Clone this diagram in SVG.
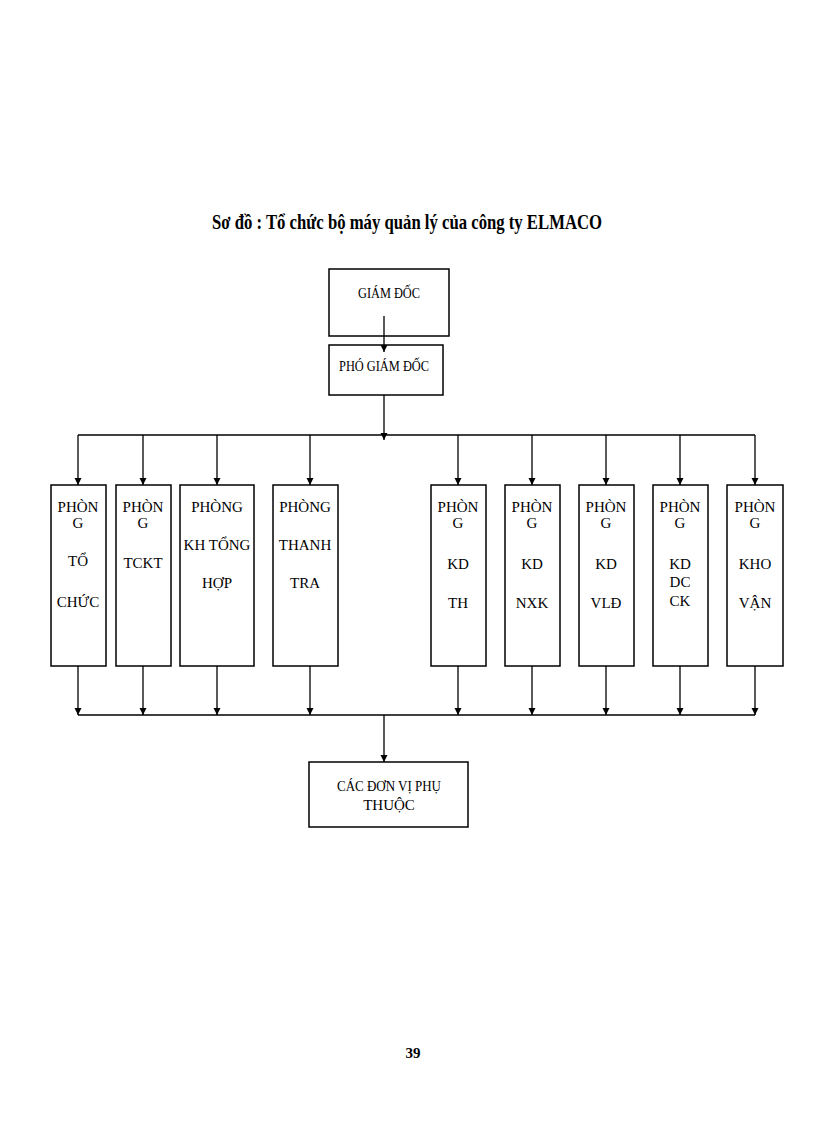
<svg xmlns="http://www.w3.org/2000/svg" width="816" height="1123" viewBox="0 0 816 1123">
<style>
text{font-family:"Liberation Serif","Times New Roman",serif;font-size:15px;fill:#000;text-anchor:middle}
.b{fill:#fff;stroke:#000;stroke-width:1.5}
.c{stroke:#000;stroke-width:1.3;fill:none}
</style>
<defs><marker id="a" viewBox="0 0 10 10" refX="10" refY="5" markerWidth="7" markerHeight="9" markerUnits="userSpaceOnUse" orient="auto"><path d="M0,0 L10,5 L0,10 Z" fill="#000"/></marker></defs>
<rect width="816" height="1123" fill="#fff"/>
<text x="407" y="229" style="font-size:21px;font-weight:bold" textLength="390" lengthAdjust="spacingAndGlyphs">Sơ đồ : Tổ chức bộ máy quản lý của công ty ELMACO</text>
<g id="gd"><rect class="b" x="329" y="269" width="120" height="67"/><text x="389" y="298" textLength="62" lengthAdjust="spacingAndGlyphs">GIÁM ĐỐC</text></g>
<g id="pgd"><rect class="b" x="329" y="345" width="114" height="50"/><text x="384" y="371" textLength="90" lengthAdjust="spacingAndGlyphs">PHÓ GIÁM ĐỐC</text></g>
<g id="p1"><rect class="b" x="51" y="485" width="55" height="181"/><text x="78" y="512">PHÒN</text><text x="78" y="528">G</text><text x="78" y="566">TỔ</text><text x="78" y="607">CHỨC</text></g>
<g id="p2"><rect class="b" x="116" y="485" width="55" height="181"/><text x="143" y="512">PHÒN</text><text x="143" y="528">G</text><text x="143" y="568">TCKT</text></g>
<g id="p3"><rect class="b" x="180" y="485" width="74" height="181"/><text x="217" y="512">PHÒNG</text><text x="217" y="550">KH TỔNG</text><text x="217" y="588">HỢP</text></g>
<g id="p4"><rect class="b" x="273" y="485" width="65" height="181"/><text x="305" y="512">PHÒNG</text><text x="305" y="550">THANH</text><text x="305" y="588">TRA</text></g>
<g id="p5"><rect class="b" x="431" y="485" width="55" height="181"/><text x="458" y="512">PHÒN</text><text x="458" y="528">G</text><text x="458" y="569">KD</text><text x="458" y="608">TH</text></g>
<g id="p6"><rect class="b" x="505" y="485" width="55" height="181"/><text x="532" y="512">PHÒN</text><text x="532" y="528">G</text><text x="532" y="569">KD</text><text x="532" y="608">NXK</text></g>
<g id="p7"><rect class="b" x="579" y="485" width="55" height="181"/><text x="606" y="512">PHÒN</text><text x="606" y="528">G</text><text x="606" y="569">KD</text><text x="606" y="608">VLĐ</text></g>
<g id="p8"><rect class="b" x="653" y="485" width="55" height="181"/><text x="680" y="512">PHÒN</text><text x="680" y="528">G</text><text x="680" y="569">KD</text><text x="680" y="587">DC</text><text x="680" y="606">CK</text></g>
<g id="p9"><rect class="b" x="727" y="485" width="56" height="181"/><text x="755" y="512">PHÒN</text><text x="755" y="528">G</text><text x="755" y="569">KHO</text><text x="755" y="608">VẬN</text></g>
<g id="dv"><rect class="b" x="309" y="762" width="159" height="65"/><text x="389" y="791" textLength="104" lengthAdjust="spacingAndGlyphs">CÁC ĐƠN VỊ PHỤ</text><text x="389" y="810">THUỘC</text></g>
<g id="conn" class="c">
<path d="M384,316 V352" marker-end="url(#a)"/>
<path d="M384,395 V440" marker-end="url(#a)"/>
<path d="M78,435 H755"/>
<path d="M78,435 V485" marker-end="url(#a)"/>
<path d="M143,435 V485" marker-end="url(#a)"/>
<path d="M217,435 V485" marker-end="url(#a)"/>
<path d="M310,435 V485" marker-end="url(#a)"/>
<path d="M458,435 V485" marker-end="url(#a)"/>
<path d="M532,435 V485" marker-end="url(#a)"/>
<path d="M606,435 V485" marker-end="url(#a)"/>
<path d="M680,435 V485" marker-end="url(#a)"/>
<path d="M755,435 V485" marker-end="url(#a)"/>
<path d="M78,715 H755"/>
<path d="M78,666 V715" marker-end="url(#a)"/>
<path d="M143,666 V715" marker-end="url(#a)"/>
<path d="M217,666 V715" marker-end="url(#a)"/>
<path d="M310,666 V715" marker-end="url(#a)"/>
<path d="M458,666 V715" marker-end="url(#a)"/>
<path d="M532,666 V715" marker-end="url(#a)"/>
<path d="M606,666 V715" marker-end="url(#a)"/>
<path d="M680,666 V715" marker-end="url(#a)"/>
<path d="M755,666 V715" marker-end="url(#a)"/>
<path d="M384,715 V762" marker-end="url(#a)"/>
</g>
<text x="413" y="1058" style="font-weight:bold">39</text>
</svg>
